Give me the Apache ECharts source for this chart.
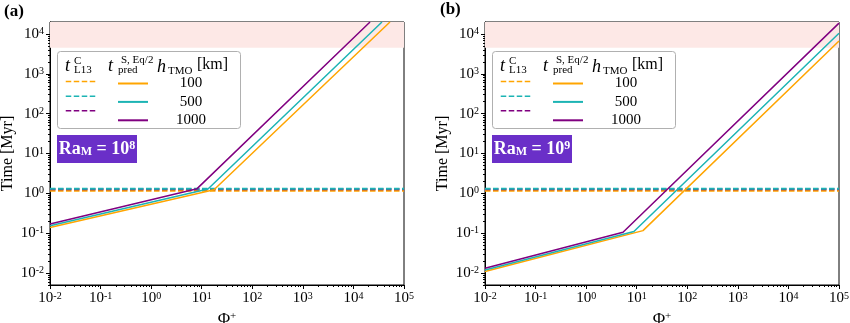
<!DOCTYPE html>
<html>
<head>
<meta charset="utf-8">
<script src="https://cdn.jsdelivr.net/npm/echarts@6/dist/echarts.min.js"></script>
<style>html,body{margin:0;padding:0;background:#fff;}#c{width:850px;height:323px;}</style>
</head>
<body>
<div id="c"></div>
<script>
// ---------- data ----------
const hTMO = ['100', '500', '1000'];
const phiTicks = [0.01, 0.1, 1, 10, 100, 1000, 10000, 100000];
const timeTicks = [0.01, 0.1, 1, 10, 100, 1000, 10000];
const phiRange = [0.01, 100000];
const timeRange = [0.005, 20000];
const ageBand = [4500, 20000];          // shaded region (Myr)
const raLabelsExp = ['8', '9'];

// t^C_L13 (horizontal dashed), per hTMO 100 / 500 / 1000
const l13A = [1.16, 1.30, 1.27];
const l13B = [1.16, 1.30, 1.27];

// t^{S,Eq/2}_pred, panel (a) Ra_M = 1e8
const phiA100 = [0.01, 17.5, 52800],  timeA100 = [0.138, 1.23, 20000];
const phiA500 = [0.01, 13.3, 36700],  timeA500 = [0.153, 1.28, 20000];
const phiA1000 = [0.01, 8.1, 21300],  timeA1000 = [0.169, 1.31, 20000];
// panel (b) Ra_M = 1e9
const phiB100 = [0.01, 13.3, 100000], timeB100 = [0.0109, 0.116, 6680];
const phiB500 = [0.01, 8.8, 100000],  timeB500 = [0.0119, 0.110, 10400];
const phiB1000 = [0.01, 5.36, 100000], timeB1000 = [0.0131, 0.106, 18700];

// ---------- styles ----------
const COLORS = ['#ffa500', '#1cb4b4', '#800080'];
const FONT = 'Liberation Serif';
const GRIDS = [{left: 50, top: 22, width: 354, height: 263}, {left: 485, top: 22, width: 354, height: 263}];
const DASH_ORDER = [0, 2, 1];   // draw cyan dashes on top of purple

function zip(xs, ys) { return xs.map((x, i) => [x, ys[i]]); }
function minorOf(ticks) {
  const out = [];
  for (let i = 0; i < ticks.length - 1; i++) for (let k = 2; k <= 9; k++) out.push(ticks[i] * k);
  return out;
}
const phiMinor = minorOf(phiTicks);
const timeMinor = minorOf([0.001].concat(timeTicks)).filter(v => v >= timeRange[0] && v <= timeRange[1]);

function powLabel(v) {
  const l = Math.log10(v), e = Math.round(l);
  if (Math.abs(l - e) > 1e-6) return '';
  return '{b|10}{s|' + e + '}';
}
const labelRich = {
  b: {fontFamily: FONT, fontSize: 15, color: '#000'},
  s: {fontFamily: FONT, fontSize: 10, color: '#000', verticalAlign: 'top'}
};

const xAxes = [], yAxes = [], series = [], legends = [], graphics = [];
const panelPred = [
  [zip(phiA100, timeA100), zip(phiA500, timeA500), zip(phiA1000, timeA1000)],
  [zip(phiB100, timeB100), zip(phiB500, timeB500), zip(phiB1000, timeB1000)]
];
const panelL13 = [l13A, l13B];

GRIDS.forEach((g, p) => {
  xAxes.push({
    type: 'log', gridIndex: p, min: phiRange[0], max: phiRange[1], position: 'bottom',
    name: '{b|Φ}{s|+}', nameLocation: 'middle', nameGap: 22,
    nameTextStyle: {rich: {b: {fontFamily: FONT, fontSize: 17, color: '#000'}, s: {fontFamily: FONT, fontSize: 11, color: '#000', verticalAlign: 'top'}}},
    axisLine: {show: true, lineStyle: {color: '#000', width: 1}},
    axisTick: {show: true, inside: false, length: 4, lineStyle: {color: '#000'}, customValues: phiTicks},
    axisLabel: {show: true, margin: 6, formatter: powLabel, rich: labelRich, customValues: phiTicks},
    splitLine: {show: false}
  });
  xAxes.push({
    type: 'log', gridIndex: p, min: phiRange[0], max: phiRange[1], position: 'bottom',
    axisLine: {show: false},
    axisTick: {show: true, inside: false, length: 2, lineStyle: {color: '#000'}, customValues: phiMinor},
    axisLabel: {show: false}, splitLine: {show: false}
  });
  yAxes.push({
    type: 'log', gridIndex: p, min: timeRange[0], max: timeRange[1], position: 'left',
    name: 'Time [Myr]', nameLocation: 'middle', nameGap: 34, nameRotate: 90,
    nameTextStyle: {fontFamily: FONT, fontSize: 16, color: '#000'},
    axisLine: {show: true, lineStyle: {color: '#000', width: 1}},
    axisTick: {show: true, inside: false, length: 4, lineStyle: {color: '#000'}, customValues: timeTicks},
    axisLabel: {show: true, margin: 6, formatter: powLabel, rich: labelRich, customValues: timeTicks},
    splitLine: {show: false}
  });
  yAxes.push({
    type: 'log', gridIndex: p, min: timeRange[0], max: timeRange[1], position: 'left',
    axisLine: {show: false},
    axisTick: {show: true, inside: false, length: 2, lineStyle: {color: '#000'}, customValues: timeMinor},
    axisLabel: {show: false}, splitLine: {show: false}
  });
  const xi = p * 2, yi = p * 2;
  const dashedNames = [], solidNames = [];
  hTMO.forEach((h, i) => { dashedNames.push('L13-' + p + '-' + h); solidNames.push('pred-' + p + '-' + h); });
  DASH_ORDER.forEach((i, k) => {
    const s = {
      type: 'line', name: dashedNames[i], xAxisIndex: xi, yAxisIndex: yi, symbol: 'none', silent: true,
      data: [[phiRange[0], panelL13[p][i]], [phiRange[1], panelL13[p][i]]],
      lineStyle: {color: COLORS[i], width: 2, type: [5.5, 2.5]}, itemStyle: {color: COLORS[i]}, z: 3
    };
    if (k === 0) {
      s.markArea = {silent: true, itemStyle: {color: '#fde8e6'}, data: [[{yAxis: ageBand[0]}, {yAxis: ageBand[1]}]]};
    }
    series.push(s);
  });
  hTMO.forEach((h, i) => {
    series.push({
      type: 'line', name: solidNames[i], xAxisIndex: xi, yAxisIndex: yi, symbol: 'none', silent: true,
      data: panelPred[p][i],
      lineStyle: {color: COLORS[i], width: 1.5, type: 'solid'}, itemStyle: {color: COLORS[i]}, z: 4
    });
  });
  const ox = g.left + 7, oy = 51;
  legends.push({
    data: dashedNames, orient: 'vertical', left: ox + 8, top: oy + 25, padding: 0,
    itemWidth: 30, itemHeight: 14, itemGap: 3.4, selectedMode: false, z: 20,
    itemStyle: {opacity: 0}, lineStyle: {width: 1.5},
    formatter: () => '', textStyle: {fontFamily: FONT, fontSize: 14, lineHeight: 14}
  });
  legends.push({
    data: solidNames, orient: 'vertical', left: ox + 60, top: oy + 25, padding: 0,
    itemWidth: 30, itemHeight: 14, itemGap: 3.4, selectedMode: false, z: 20,
    itemStyle: {opacity: 0},
    formatter: (n) => '{v|' + n.split('-')[2] + '}',
    textStyle: {fontFamily: FONT, fontSize: 15, color: '#000', lineHeight: 14,
      rich: {v: {fontFamily: FONT, fontSize: 15, color: '#000', width: 76, align: 'center', lineHeight: 14}}}
  });
  graphics.push({type: 'rect', left: ox, top: oy, z: 10, shape: {width: 183, height: 77, r: 3},
    style: {fill: 'rgba(255,255,255,0.85)', stroke: '#b0b0b0', lineWidth: 1}});
  const hdr = [
    ['t', 8, 15.5, 18, 'italic'], ['C', 17, 10, 11, 'normal'], ['L13', 17, 19, 11, 'normal'],
    ['t', 51, 15.5, 18, 'italic'], ['S, Eq/2', 64, 9.5, 11, 'normal'], ['pred', 61, 19, 11, 'normal'],
    ['h', 100, 16, 18, 'italic'], ['TMO', 111, 20, 11, 'normal'], ['[km]', 140, 13.5, 16, 'normal']
  ];
  hdr.forEach(([t, dx, dy, fs, st]) => {
    graphics.push({type: 'text', x: ox + dx, y: oy + dy, z: 30,
      style: {text: t, fontFamily: FONT, fontSize: fs, fontStyle: st, fill: '#000', align: 'left', verticalAlign: 'middle'}});
  });
  graphics.push({type: 'rect', left: ox, top: 135, z: 10, shape: {width: 80, height: 28},
    style: {fill: '#6a2fc8'}});
  graphics.push({type: 'text', x: ox + 40, y: 149, z: 31,
    style: {text: '{r|Ra}{m|M}{r| = 10}{e|' + raLabelsExp[p] + '}', align: 'center', verticalAlign: 'middle',
      rich: {
        r: {fontFamily: FONT, fontSize: 18, fontWeight: 'bold', fill: '#fff', color: '#fff'},
        m: {fontFamily: FONT, fontSize: 12, fontWeight: 'bold', fill: '#fff', color: '#fff', verticalAlign: 'bottom'},
        e: {fontFamily: FONT, fontSize: 12, fontWeight: 'bold', fill: '#fff', color: '#fff', verticalAlign: 'top'}
      }}});
});
graphics.push({type: 'text', x: 4, y: 3, style: {text: '(a)', fontFamily: FONT, fontSize: 17, fontWeight: 'bold', fill: '#000'}});
graphics.push({type: 'text', x: 440, y: 1, style: {text: '(b)', fontFamily: FONT, fontSize: 17, fontWeight: 'bold', fill: '#000'}});

const chart = echarts.init(document.getElementById('c'), null, {renderer: 'canvas'});
chart.setOption({
  animation: false,
  backgroundColor: '#fff',
  textStyle: {fontFamily: FONT},
  grid: GRIDS.map(g => Object.assign({show: true, borderColor: '#000', borderWidth: 1, backgroundColor: 'transparent', containLabel: false, outerBoundsMode: 'none'}, g)),
  xAxis: xAxes,
  yAxis: yAxes,
  legend: legends,
  series: series,
  graphic: graphics
});
</script>
</body>
</html>
